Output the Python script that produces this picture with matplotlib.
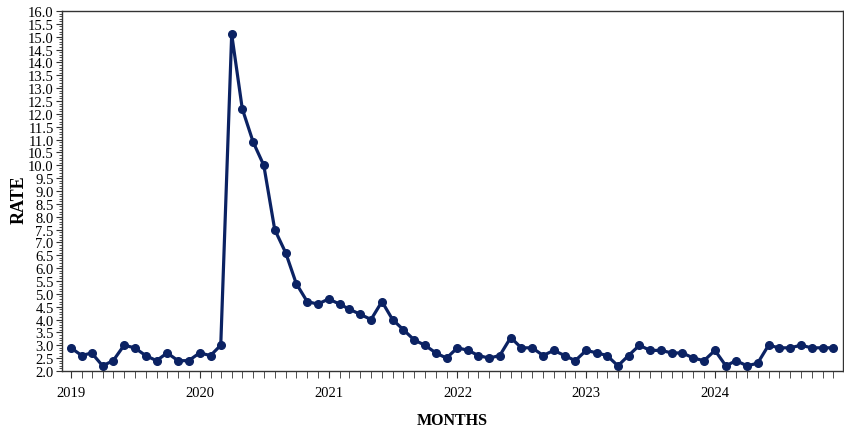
import matplotlib.pyplot as plt
import matplotlib.dates as mdates
import numpy as np
import pandas as pd
from matplotlib.ticker import MultipleLocator

plt.rcParams['font.family'] = ['Liberation Serif', 'DejaVu Serif']

months = pd.date_range('2019-01-01', '2024-12-01', freq='MS')
rate = [2.9, 2.6, 2.7, 2.2, 2.4, 3.0, 2.9, 2.6, 2.4, 2.7, 2.4, 2.4,
        2.7, 2.6, 3.0, 15.1, 12.2, 10.9, 10.0, 7.5, 6.6, 5.4, 4.7, 4.6,
        4.8, 4.6, 4.4, 4.2, 4.0, 4.7, 4.0, 3.6, 3.2, 3.0, 2.7, 2.5,
        2.9, 2.8, 2.6, 2.5, 2.6, 3.3, 2.9, 2.9, 2.6, 2.8, 2.6, 2.4,
        2.8, 2.7, 2.6, 2.2, 2.6, 3.0, 2.8, 2.8, 2.7, 2.7, 2.5, 2.4,
        2.8, 2.2, 2.4, 2.2, 2.3, 3.0, 2.9, 2.9, 3.0, 2.9, 2.9, 2.9]

navy = '#0b2263'

fig = plt.figure(figsize=(8.45, 4.31), dpi=100)
ax = fig.add_axes([0.0734, 0.137, 0.9242, 0.835])

ax.plot(months, rate, color=navy, lw=2.3, marker='o', ms=5.5)

ax.set_ylim(2.0, 16.0)
ax.yaxis.set_major_locator(MultipleLocator(0.5))
ax.yaxis.set_minor_locator(MultipleLocator(0.1))
ax.yaxis.set_major_formatter(plt.FormatStrFormatter('%.1f'))

ax.set_xlim(pd.Timestamp('2018-12-07'), pd.Timestamp('2024-12-29'))
ax.xaxis.set_major_locator(mdates.YearLocator())
ax.xaxis.set_major_formatter(mdates.DateFormatter('%Y'))
ax.xaxis.set_minor_locator(mdates.MonthLocator())

ax.tick_params(axis='both', which='both', labelsize=10.5, color='#333333')
ax.tick_params(axis='y', which='major', length=4, pad=2)
ax.tick_params(axis='y', which='minor', length=2)
ax.tick_params(axis='x', which='both', length=5, pad=6)

for s in ax.spines.values():
    s.set_color('#333333')
    s.set_linewidth(1.0)

ax.set_ylabel('RATE', fontsize=13, fontweight='bold')
ax.yaxis.set_label_coords(-0.044, 0.478)
ax.set_xlabel('MONTHS', fontsize=11.5, fontweight='bold', labelpad=9)

plt.savefig('out.png', dpi=100)
